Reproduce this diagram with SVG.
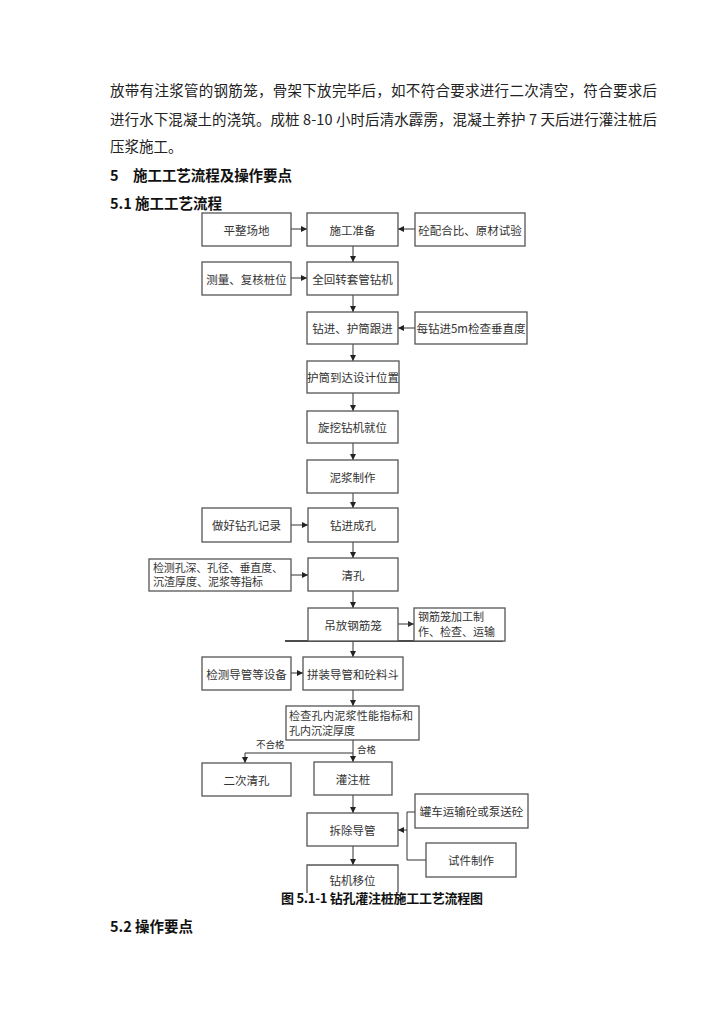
<svg xmlns="http://www.w3.org/2000/svg" width="725" height="1024" viewBox="0 0 725 1024">
<style>
.body{font-family:"Noto Sans CJK SC","Liberation Serif",serif;font-size:14.5px;fill:#222}
.head{font-family:"Noto Sans CJK SC","Liberation Sans",sans-serif;font-size:14.5px;font-weight:bold;fill:#111}
.box{fill:#fff;stroke:#555;stroke-width:1.3}
.t{font-family:"Noto Sans CJK SC","Liberation Serif",serif;font-size:11.5px;fill:#333;text-anchor:middle;dominant-baseline:central}
.tl{font-family:"Noto Sans CJK SC","Liberation Serif",serif;font-size:11px;fill:#333}
.c{stroke:#333;stroke-width:1;fill:none}
.lbl{font-family:"Noto Sans CJK SC","Liberation Serif",serif;font-size:9.5px;fill:#333}
</style>
<defs>
<marker id="ah" viewBox="0 0 10 10" refX="10" refY="5" markerWidth="6" markerHeight="6" orient="auto" markerUnits="userSpaceOnUse">
<path d="M0,0 L10,5 L0,10 z" fill="#222"/>
</marker>
<marker id="ahg" viewBox="0 0 10 10" refX="10" refY="5" markerWidth="6" markerHeight="6" orient="auto" markerUnits="userSpaceOnUse">
<path d="M0,0 L10,5 L0,10 z" fill="#333"/>
</marker>
</defs>
<rect width="725" height="1024" fill="#fff"/>

<g id="text">
<text class="body" x="110" y="96" textLength="547" lengthAdjust="spacing">放带有注浆管的钢筋笼，骨架下放完毕后，如不符合要求进行二次清空，符合要求后</text>
<text class="body" x="110" y="125" textLength="547" lengthAdjust="spacing">进行水下混凝土的浇筑。成桩 8-10 小时后清水霹雳，混凝土养护 7 天后进行灌注桩后</text>
<text class="body" x="110" y="152">压浆施工。</text>
<text class="head" x="110" y="181">5</text>
<text class="head" x="133" y="181" textLength="159" lengthAdjust="spacing">施工工艺流程及操作要点</text>
<text class="head" x="110" y="209">5.1 施工工艺流程</text>
<text class="head" x="110" y="932">5.2 操作要点</text>
</g>

<g id="connectors">
<line class="c" x1="291" y1="229" x2="307" y2="229" marker-end="url(#ah)"/>
<line class="c" x1="415" y1="229" x2="398" y2="229" marker-end="url(#ah)"/>
<line class="c" x1="353" y1="246" x2="353" y2="262" marker-end="url(#ah)"/>
<line class="c" x1="291" y1="278" x2="307" y2="278" marker-end="url(#ah)"/>
<line class="c" x1="353" y1="295" x2="353" y2="312" marker-end="url(#ah)"/>
<line class="c" x1="415" y1="328" x2="398" y2="328" marker-end="url(#ah)"/>
<line class="c" x1="353" y1="344" x2="353" y2="361" marker-end="url(#ah)"/>
<line class="c" x1="353" y1="393" x2="353" y2="411" marker-end="url(#ah)"/>
<line class="c" x1="353" y1="443" x2="353" y2="460" marker-end="url(#ah)"/>
<line class="c" x1="353" y1="493" x2="353" y2="508" marker-end="url(#ah)"/>
<line class="c" x1="291" y1="525" x2="308" y2="525" marker-end="url(#ah)"/>
<line class="c" x1="353" y1="542" x2="353" y2="558" marker-end="url(#ah)"/>
<line class="c" x1="291" y1="575" x2="308" y2="575" marker-end="url(#ah)"/>
<line class="c" x1="353" y1="591" x2="353" y2="608" marker-end="url(#ah)"/>
<line class="c" x1="398" y1="624" x2="414" y2="624" stroke="#777" marker-end="url(#ahg)"/>
<line x1="285" y1="641" x2="503" y2="641" stroke="#111" stroke-width="1.3"/>
<line class="c" x1="353" y1="641" x2="353" y2="657" marker-end="url(#ah)"/>
<line class="c" x1="291" y1="673" x2="303" y2="673" marker-end="url(#ah)"/>
<line class="c" x1="353" y1="690" x2="353" y2="706" marker-end="url(#ah)"/>
<line class="c" x1="353" y1="740" x2="353" y2="762" marker-end="url(#ah)"/>
<polyline class="c" points="353,753 245,753 245,763" marker-end="url(#ah)"/>
<text class="lbl" x="256" y="748">不合格</text>
<text class="lbl" x="357" y="753">合格</text>
<line class="c" x1="353" y1="795" x2="353" y2="813" marker-end="url(#ah)"/>
<polyline class="c" points="415,812 407,812 407,860 426,860"/>
<line class="c" x1="407" y1="830" x2="398" y2="830" marker-end="url(#ah)"/>
<line class="c" x1="353" y1="846" x2="353" y2="865" marker-end="url(#ah)"/>
</g>

<g id="n-pingzheng"><rect class="box" x="202" y="213" width="89" height="33"/><text class="t" x="246.5" y="229.5">平整场地</text></g>
<g id="n-shigong"><rect class="box" x="307" y="213" width="91" height="33"/><text class="t" x="352.5" y="229.5">施工准备</text></g>
<g id="n-peihebi"><rect class="box" x="415" y="213" width="110" height="33"/><text class="t" x="470" y="229.5">砼配合比、原材试验</text></g>
<g id="n-celiang"><rect class="box" x="202" y="262" width="89" height="33"/><text class="t" x="246.5" y="278.5">测量、复核桩位</text></g>
<g id="n-quanhuizhuan"><rect class="box" x="307" y="262" width="91" height="33"/><text class="t" x="352.5" y="278.5">全回转套管钻机</text></g>
<g id="n-zuanjin"><rect class="box" x="307" y="312" width="91" height="32"/><text class="t" x="352.5" y="328">钻进、护筒跟进</text></g>
<g id="n-meizuan"><rect class="box" x="415" y="312" width="112" height="32"/><text class="t" x="471" y="328">每钻进5m检查垂直度</text></g>
<g id="n-hutong"><rect class="box" x="307" y="361" width="92" height="32"/><text class="t" x="353" y="377">护筒到达设计位置</text></g>
<g id="n-xuanwa"><rect class="box" x="307" y="411" width="91" height="32"/><text class="t" x="352.5" y="427">旋挖钻机就位</text></g>
<g id="n-nijiang"><rect class="box" x="307" y="460" width="91" height="33"/><text class="t" x="352.5" y="476.5">泥浆制作</text></g>
<g id="n-zuohao"><rect class="box" x="202" y="508" width="89" height="34"/><text class="t" x="246.5" y="525">做好钻孔记录</text></g>
<g id="n-chengkong"><rect class="box" x="308" y="508" width="90" height="34"/><text class="t" x="353" y="525">钻进成孔</text></g>
<g id="n-jiance"><rect class="box" x="149" y="559" width="142" height="32"/><text class="tl" x="153" y="572" textLength="130" lengthAdjust="spacing">检测孔深、孔径、垂直度、</text><text class="tl" x="153" y="586">沉渣厚度、泥浆等指标</text></g>
<g id="n-qingkong"><rect class="box" x="308" y="558" width="90" height="33"/><text class="t" x="353" y="574.5">清孔</text></g>
<g id="n-diaofang"><rect class="box" x="308" y="608" width="90" height="33"/><text class="t" x="353" y="624.5">吊放钢筋笼</text></g>
<g id="n-gangjinlong"><rect class="box" x="414" y="608" width="91" height="33"/><text class="tl" x="418" y="621">钢筋笼加工制</text><text class="tl" x="418" y="636">作、检查、运输</text></g>
<g id="n-jiancedaoguan"><rect class="box" x="202" y="657" width="89" height="33"/><text class="t" x="246.5" y="673.5">检测导管等设备</text></g>
<g id="n-pinzhuang"><rect class="box" x="303" y="657" width="100" height="33"/><text class="t" x="353" y="673.5">拼装导管和砼料斗</text></g>
<g id="n-jiancha"><rect class="box" x="286" y="706" width="133" height="34"/><text class="tl" x="289" y="720" textLength="124" lengthAdjust="spacing">检查孔内泥浆性能指标和</text><text class="tl" x="289" y="735">孔内沉淀厚度</text></g>
<g id="n-erci"><rect class="box" x="202" y="763" width="89" height="33"/><text class="t" x="246.5" y="779.5">二次清孔</text></g>
<g id="n-guanzhu"><rect class="box" x="314" y="762" width="78" height="33"/><text class="t" x="353" y="778.5">灌注桩</text></g>
<g id="n-chaichu"><rect class="box" x="307" y="813" width="91" height="33"/><text class="t" x="352.5" y="829.5">拆除导管</text></g>
<g id="n-guanche"><rect class="box" x="415" y="794" width="113" height="34"/><text class="t" x="471.5" y="811">罐车运输砼或泵送砼</text></g>
<g id="n-shijian"><rect class="box" x="426" y="843" width="90" height="34"/><text class="t" x="471" y="860">试件制作</text></g>
<g id="n-yiwei"><path class="box" d="M307,893 L307,865 L398,865 L398,893"/><text class="t" x="352.5" y="880">钻机移位</text></g>

<g id="caption">
<text class="head" x="281" y="903" font-size="13" textLength="202" lengthAdjust="spacing" style="font-size:13px">图 5.1-1 钻孔灌注桩施工工艺流程图</text>
</g>
</svg>
